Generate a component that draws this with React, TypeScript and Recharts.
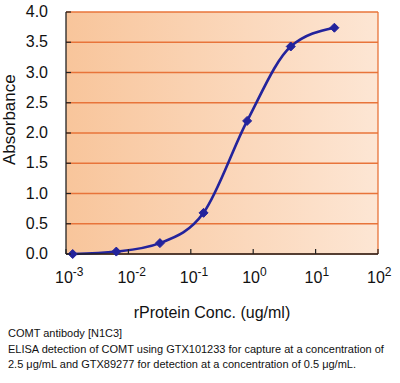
import React from 'react';
import {
  LineChart,
  Line,
  XAxis,
  YAxis,
  CartesianGrid,
  ReferenceLine,
} from 'recharts';

// ELISA titration of COMT
const concentrations = [0.00128, 0.0064, 0.032, 0.16, 0.8, 4, 20];
const absorbance = [0.0, 0.04, 0.18, 0.68, 2.2, 3.43, 3.74];

const xTicks = [0.001, 0.01, 0.1, 1, 10, 100];
const xTickExponents = ['-3', '-2', '-1', '0', '1', '2'];
const yTicks = [0, 0.5, 1, 1.5, 2, 2.5, 3, 3.5, 4];

const xTitle = 'rProtein Conc. (ug/ml)';
const yTitle = 'Absorbance';
const captionLines = [
  'COMT antibody [N1C3]',
  'ELISA detection of COMT using GTX101233 for capture at a concentration of',
  '2.5 μg/mL and GTX89277 for detection at a concentration of 0.5 μg/mL.',
];

const data = concentrations.map((c, i) => ({ conc: c, abs: absorbance[i] }));

const FONT = 'Arial, "Liberation Sans", Helvetica, sans-serif';
const GRID = '#e8743a';
const LINE = '#23239c';

const XTick = (props: any) => {
  const { x, y, payload } = props;
  const idx = xTicks.indexOf(payload.value);
  return (
    <g>
      <line x1={x} x2={x} y1={y} y2={y - 5} stroke="#222" strokeWidth={1.2} />
      <text x={x - 11} y={y + 29} fontFamily={FONT} fontSize={16} fill="#111">
        <tspan>10</tspan>
        <tspan dy={-7} fontSize={12}>{xTickExponents[idx]}</tspan>
      </text>
    </g>
  );
};

const YTick = (props: any) => {
  const { x, y, payload } = props;
  return (
    <g>
      <line x1={x + 18} x2={x + 23} y1={y} y2={y} stroke="#222" strokeWidth={1.2} />
      <text
        x={x}
        y={y}
        dy={5}
        textAnchor="end"
        fontFamily={FONT}
        fontSize={16}
        fill="#111"
      >
        {payload.value.toFixed(1)}
      </text>
    </g>
  );
};

const Diamond = (props: any) => {
  const { cx, cy } = props;
  if (cx == null || cy == null) return null;
  const r = 4.5;
  return (
    <path
      d={`M${cx},${cy - r} L${cx + r},${cy} L${cx},${cy + r} L${cx - r},${cy} Z`}
      fill={LINE}
      stroke={LINE}
    />
  );
};

export default function App() {
  return (
    <div
      style={{
        position: 'absolute',
        left: 0,
        top: 0,
        width: 400,
        height: 383,
        background: '#fff',
        fontFamily: FONT,
        overflow: 'hidden',
      }}
    >
      <LineChart
        width={400}
        height={300}
        data={data}
        margin={{ top: 12, right: 22, left: 0, bottom: 0 }}
      >
        <defs>
          <linearGradient id="plotBg" x1="0" y1="0" x2="1" y2="0">
            <stop offset="0%" stopColor="#f8c59b" />
            <stop offset="100%" stopColor="#fde6d4" />
          </linearGradient>
        </defs>
        <CartesianGrid
          vertical={false}
          stroke={GRID}
          strokeWidth={1.3}
          fill="url(#plotBg)"
          fillOpacity={1}
          horizontalValues={yTicks}
        />
        <ReferenceLine x={100} stroke={GRID} strokeWidth={1.3} ifOverflow="visible" />
        <XAxis
          dataKey="conc"
          type="number"
          scale="log"
          domain={[0.001, 100]}
          ticks={xTicks}
          allowDataOverflow
          height={46}
          tickSize={0}
          tickMargin={0}
          tickLine={false}
          axisLine={{ stroke: '#222', strokeWidth: 1.3 }}
          tick={<XTick />}
          interval={0}
        />
        <YAxis
          type="number"
          domain={[0, 4]}
          ticks={yTicks}
          width={66}
          tickSize={0}
          tickMargin={18}
          tickLine={false}
          axisLine={{ stroke: '#222', strokeWidth: 1.3 }}
          tick={<YTick />}
          interval={0}
        />
        <Line
          type="monotone"
          dataKey="abs"
          stroke={LINE}
          strokeWidth={2.6}
          dot={<Diamond />}
          activeDot={false}
          isAnimationActive={false}
        />
      </LineChart>
      <div
        style={{
          position: 'absolute',
          left: 10 - 45,
          top: 120 - 10,
          width: 90,
          height: 20,
          transform: 'rotate(-90deg)',
          textAlign: 'center',
          fontSize: 17,
          lineHeight: '20px',
          color: '#111',
        }}
      >
        {yTitle}
      </div>
      <div
        style={{
          position: 'absolute',
          left: 62,
          top: 303,
          width: 300,
          textAlign: 'center',
          fontSize: 16,
          lineHeight: '20px',
          color: '#111',
        }}
      >
        {xTitle}
      </div>
      <div
        style={{
          position: 'absolute',
          left: 8,
          top: 326,
          fontSize: 11,
          lineHeight: '15.5px',
          color: '#111',
          whiteSpace: 'nowrap',
        }}
      >
        {captionLines.map((l) => (
          <div key={l}>{l}</div>
        ))}
      </div>
    </div>
  );
}
